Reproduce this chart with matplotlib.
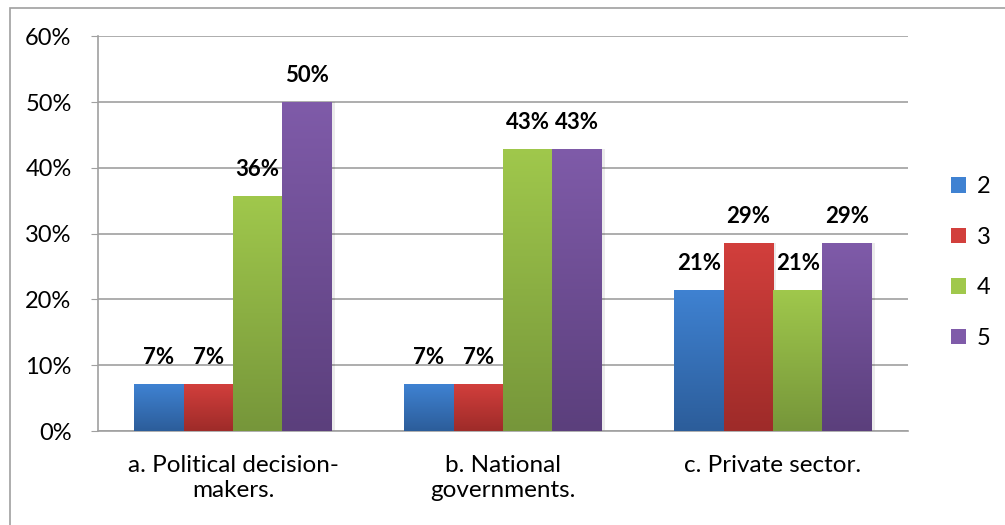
import matplotlib.pyplot as plt
import numpy as np
from matplotlib.colors import LinearSegmentedColormap
from matplotlib.patches import Rectangle

plt.rcParams['font.family'] = ['Lato', 'DejaVu Sans']

# veriler
kategoriler = ["a. Political decision-\nmakers.", "b. National\ngovernments.", "c. Private sector."]
seriler = ["2", "3", "4", "5"]
degerler = [
    [7.14, 7.14, 21.43],   # 2
    [7.14, 7.14, 28.57],   # 3
    [35.71, 42.86, 21.43],  # 4
    [50.0, 42.86, 28.57],   # 5
]
etiketler = [
    ["7%", "7%", "21%"],
    ["7%", "7%", "29%"],
    ["36%", "43%", "21%"],
    ["50%", "43%", "29%"],
]
y_ticks = [0, 10, 20, 30, 40, 50, 60]

# renkler (ust, alt)
renkler = [("#3f82d2", "#2c5d9a"), ("#d23f3c", "#9e2b29"),
           ("#a0c84c", "#76963a"), ("#7f5ba9", "#5b3f7c")]

fig = plt.figure(figsize=(10.05, 5.25), dpi=100)
ax = fig.add_axes([0.0975, 0.179, 0.806, 0.752])

# dis cerceve
fig.patches.append(Rectangle((10 / 1005, -0.05), 1.0, 1 - 8 / 525 + 0.05,
                             transform=fig.transFigure, fill=False,
                             edgecolor="#a0a0a0", linewidth=1.2))

x = np.arange(len(kategoriler))
w = 0.183
grad = np.linspace(1, 0, 256).reshape(-1, 1)

for i, seri in enumerate(seriler):
    cmap = LinearSegmentedColormap.from_list("c%d" % i, [renkler[i][1], renkler[i][0]])
    pos = x + (i - 1.5) * w
    bars = ax.bar(pos, degerler[i], w, color=renkler[i][0], label=seri, zorder=3)
    for b, lab in zip(bars, etiketler[i]):
        bx, by = b.get_x(), b.get_y()
        bw, bh = b.get_width(), b.get_height()
        # hafif golge
        ax.add_patch(Rectangle((bx + 0.012, by), bw, bh, color="#000000",
                               alpha=0.08, zorder=2.5, linewidth=0))
        im = ax.imshow(grad, cmap=cmap, aspect="auto",
                       extent=[bx, bx + bw, by, by + bh], zorder=3.1)
        im.set_clip_path(b)
        ax.text(bx + bw / 2, bh + 2.4, lab, ha="center", va="bottom",
                fontsize=16, fontweight="bold", zorder=5)

ax.set_xlim(-0.5, 2.5)
ax.set_ylim(0, 60)
ax.set_yticks(y_ticks)
ax.set_yticklabels(["%d%%" % v for v in y_ticks], fontsize=17)
ax.set_xticks(x)
ax.set_xticklabels(kategoriler, fontsize=17.5, linespacing=1.25)
ax.tick_params(axis="x", length=0, pad=17)
ax.tick_params(axis="y", length=5, color="#a0a0a0", pad=14)
ax.yaxis.grid(True, color="#a0a0a0", linewidth=1.2, zorder=0)
ax.set_axisbelow(True)
for s in ["top", "right"]:
    ax.spines[s].set_visible(False)
for s in ["left", "bottom"]:
    ax.spines[s].set_color("#a0a0a0")
    ax.spines[s].set_linewidth(1.2)

leg = ax.legend(loc="center left", bbox_to_anchor=(951 / 1005, 0.5),
                bbox_transform=fig.transFigure, frameon=False,
                borderpad=0, borderaxespad=0,
                fontsize=17, handlelength=0.65, handleheight=0.65,
                labelspacing=1.25, handletextpad=0.45)

fig.savefig("out.png", dpi=100)
